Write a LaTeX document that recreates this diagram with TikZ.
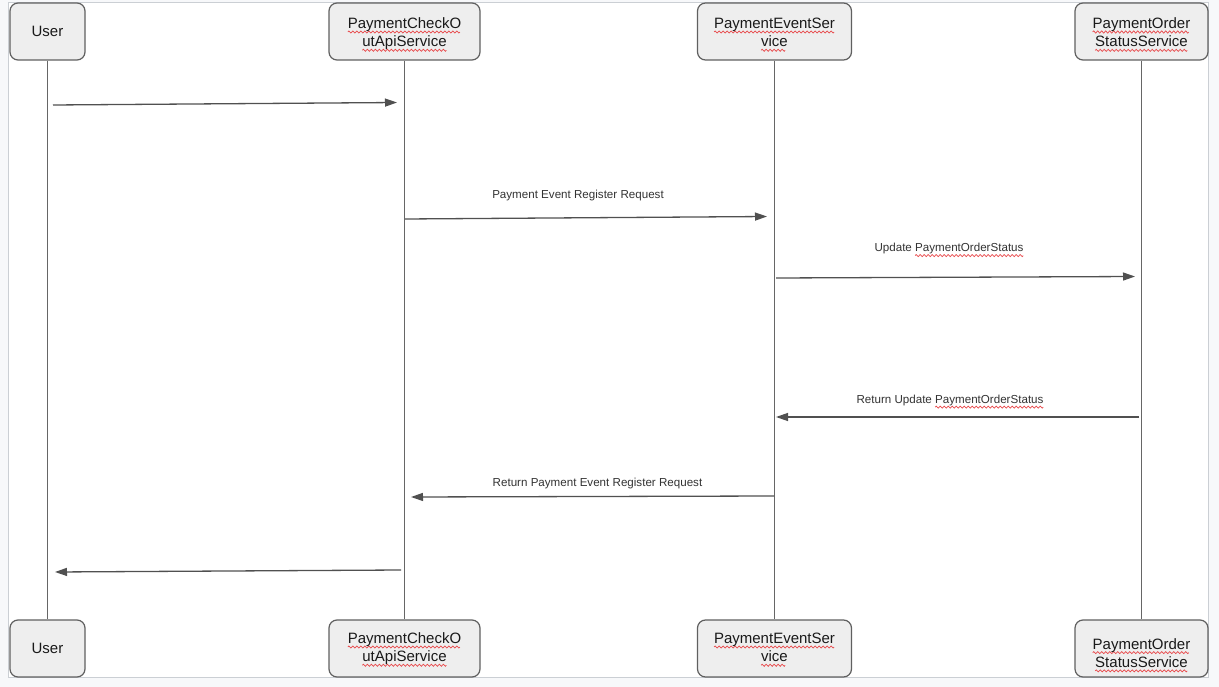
\documentclass[tikz,border=0pt]{standalone}
\usepackage{fontspec}
\setmainfont{Liberation Sans}
\usetikzlibrary{arrows.meta}
\definecolor{boxfill}{HTML}{EEEEEE}
\definecolor{boxline}{HTML}{606060}
\definecolor{lifeline}{HTML}{666666}
\definecolor{msgline}{HTML}{505050}
\definecolor{labeltext}{HTML}{333333}
\definecolor{framecol}{HTML}{CBCFD4}
\definecolor{outerbg}{HTML}{F7F8FA}
\definecolor{spell}{HTML}{E8484A}
\newsavebox\wavebox
\sbox\wavebox{\tikz[baseline=0pt, x=1pt, y=1pt]{\useasboundingbox (0,-1) rectangle (4,1);
  \draw[spell, line width=0.7pt] (0,0) -- (1,1.05) -- (3,-1.05) -- (4,0);}}
\newcommand\sqw[1]{\setbox0\hbox{#1}\rlap{\lower3.6pt\hbox to\wd0{\leaders\copy\wavebox\hfill}}\box0}
\tikzset{
  actor/.style={draw=boxline, line width=1.2pt, fill=boxfill, rounded corners=8pt,
    minimum height=57pt, inner sep=0pt, align=center, text=black!90,
    font=\fontsize{15}{18.3}\selectfont},
  twoline/.style={text height=#1, text depth=0pt},
  life/.style={draw=lifeline, line width=1.4pt},
  msg/.style={draw=msgline, line width=1.3pt, -{Triangle[length=12pt,width=8pt]}},
  msglabel/.style={text=labeltext, font=\fontsize{11.6}{14}\selectfont, inner sep=0pt, anchor=base}
}
\begin{document}
\begin{tikzpicture}[x=1pt,y=-1pt]
\useasboundingbox (0,0) rectangle (1219,687);
\fill[outerbg] (0,0) rectangle (1219,687);
\draw[framecol, fill=white, line width=1pt] (8.5,2.5) rectangle (1208.5,677.5);

% lifelines (drawn first, boxes on top)
\path (47.5,31.5) coordinate (utc) (47.5,648.5) coordinate (ubc);

% top actors
\node[actor, minimum width=75pt]  (ut) at (47.5,31.5)  {User};
\node[actor, twoline=30.4pt, minimum width=151pt] (ct) at (404.5,31.5) {\sqw{PaymentCheckO}\\\sqw{utApiService}};
\node[actor, twoline=30.4pt, minimum width=154pt] (et) at (774.5,31.5) {\sqw{PaymentEventSer}\\\sqw{vice}};
\node[actor, twoline=30.4pt, minimum width=133pt] (ot) at (1141.5,31.5) {\sqw{PaymentOrder}\\\sqw{StatusService}};
% bottom actors
\node[actor, minimum width=75pt]  (ub) at (47.5,648.5)  {User};
\node[actor, twoline=26.4pt, minimum width=151pt] (cb) at (404.5,648.5) {\sqw{PaymentCheckO}\\\sqw{utApiService}};
\node[actor, twoline=26.4pt, minimum width=154pt] (eb) at (774.5,648.5) {\sqw{PaymentEventSer}\\\sqw{vice}};
\node[actor, twoline=37.6pt, minimum width=133pt] (ob) at (1141.5,648.5) {\sqw{PaymentOrder}\\\sqw{StatusService}};

% lifelines
\draw[life] (ut.south) -- (ub.north);
\draw[life] (ct.south) -- (cb.north);
\draw[life] (et.south) -- (eb.north);
\draw[life] (ot.south) -- (ob.north);

% message end points
\coordinate (m1a) at (53,105);   \coordinate (m1b) at (397,102.5);
\coordinate (m2a) at (405,219);  \coordinate (m2b) at (767,216.5);
\coordinate (m3a) at (776,278);  \coordinate (m3b) at (1135,276.5);
\coordinate (m4a) at (1139,417); \coordinate (m4b) at (776,417);
\coordinate (m5a) at (774,496);  \coordinate (m5b) at (411,497);
\coordinate (m6a) at (401,570);  \coordinate (m6b) at (55,572);

\draw[msg] (m1a) -- (m1b);
\draw[msg] (m2a) -- (m2b);
\draw[msg] (m3a) -- (m3b);
\draw[msg] (m4a) -- (m4b);
\draw[msg] (m5a) -- (m5b);
\draw[msg] (m6a) -- (m6b);

% labels
\node[msglabel] (l2) at (578,198.5) {Payment Event Register Request};
\node[msglabel] (l3) at (949,252) {Update \sqw{PaymentOrderStatus}};
\node[msglabel] (l4) at (950,403.5) {Return Update \sqw{PaymentOrderStatus}};
\node[msglabel] (l5) at (597.5,486.5) {Return Payment Event Register Request};
\end{tikzpicture}
\end{document}
